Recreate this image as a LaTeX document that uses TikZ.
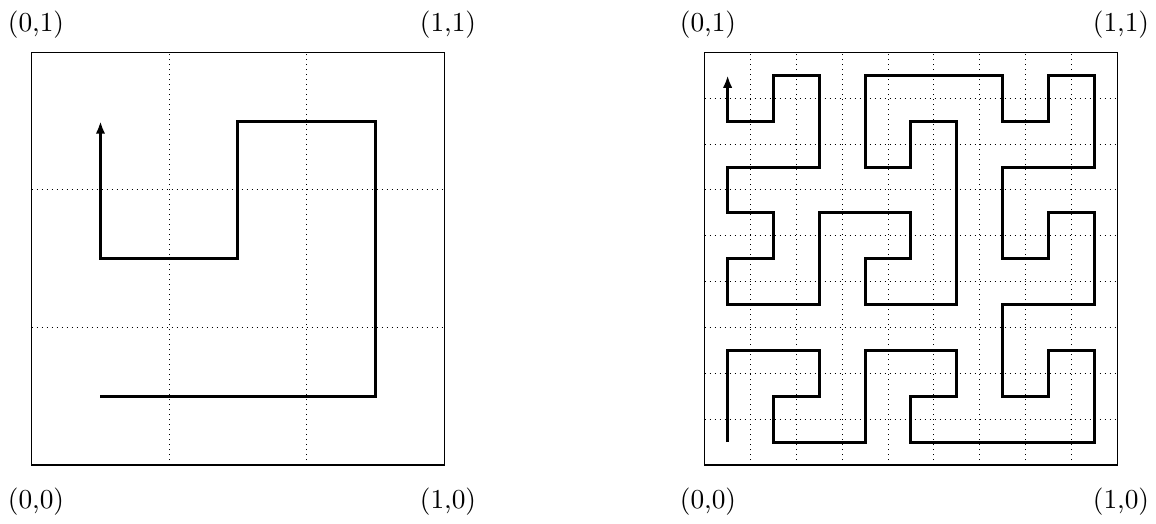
\documentclass[tikz,border=0pt]{standalone}
\usetikzlibrary{arrows.meta}
\tikzset{
  gridline/.style={line width=0.4pt, dash pattern=on 0.4pt off 1.6pt},
  frame/.style={line width=0.5pt},
  curve/.style={line width=1.2pt, line join=miter},
  curvearrow/.style={curve, -{Latex[length=5pt,width=3.8pt]}},
  corner/.style={inner sep=0pt, font=\fontsize{10.95}{13}\selectfont}
}
\begin{document}
\begin{tikzpicture}[x=0.4pt,y=-0.4pt]
\useasboundingbox (0,0) rectangle (1156,523);
% labels
\node[corner] (l01) at (36,25) {(0,1)};
\node[corner] (l11) at (448,25) {(1,1)};
\node[corner] (l00) at (36,502) {(0,0)};
\node[corner] (l10) at (448,502) {(1,0)};
\node[corner] (r01) at (708,25) {(0,1)};
\node[corner] (r11) at (1121,25) {(1,1)};
\node[corner] (r00) at (708,502) {(0,0)};
\node[corner] (r10) at (1121,502) {(1,0)};
% left square
\begin{scope}[shift={(31.7,465)}, x=55.01pt, y=55.01pt]
  \foreach \k in {1,2} {
    \draw[gridline] (\k,0) -- (\k,3);
    \draw[gridline] (0,\k) -- (3,\k);
  }
  \draw[frame] (0,0) rectangle (3,3);
  \begin{scope}[shift={(0.5,0.5)}]
    \draw[curvearrow] (0,0) -- (2,0) -- (2,2) -- (1,2) -- (1,1) -- (0,1) -- (0,2);
  \end{scope}
\end{scope}
% right square
\begin{scope}[shift={(704.7,465)}, x=18.337pt, y=18.337pt]
  \foreach \k in {1,...,8} {
    \draw[gridline] (\k,0) -- (\k,9);
    \draw[gridline] (0,\k) -- (9,\k);
  }
  \draw[frame] (0,0) rectangle (9,9);
  \begin{scope}[shift={(0.5,0.5)}]
    \draw[curvearrow] (0,0) -- (0,2) -- (2,2) -- (2,1) -- (1,1) -- (1,0) -- (3,0) -- (3,2) -- (5,2) -- (5,1) -- (4,1) -- (4,0) -- (8,0) -- (8,2) -- (7,2) -- (7,1) -- (6,1) -- (6,3) -- (8,3) -- (8,5) -- (7,5) -- (7,4) -- (6,4) -- (6,6) -- (8,6) -- (8,8) -- (7,8) -- (7,7) -- (6,7) -- (6,8) -- (3,8) -- (3,6) -- (4,6) -- (4,7) -- (5,7) -- (5,3) -- (3,3) -- (3,4) -- (4,4) -- (4,5) -- (2,5) -- (2,3) -- (0,3) -- (0,4) -- (1,4) -- (1,5) -- (0,5) -- (0,6) -- (2,6) -- (2,8) -- (1,8) -- (1,7) -- (0,7) -- (0,8);
  \end{scope}
\end{scope}
\end{tikzpicture}
\end{document}
